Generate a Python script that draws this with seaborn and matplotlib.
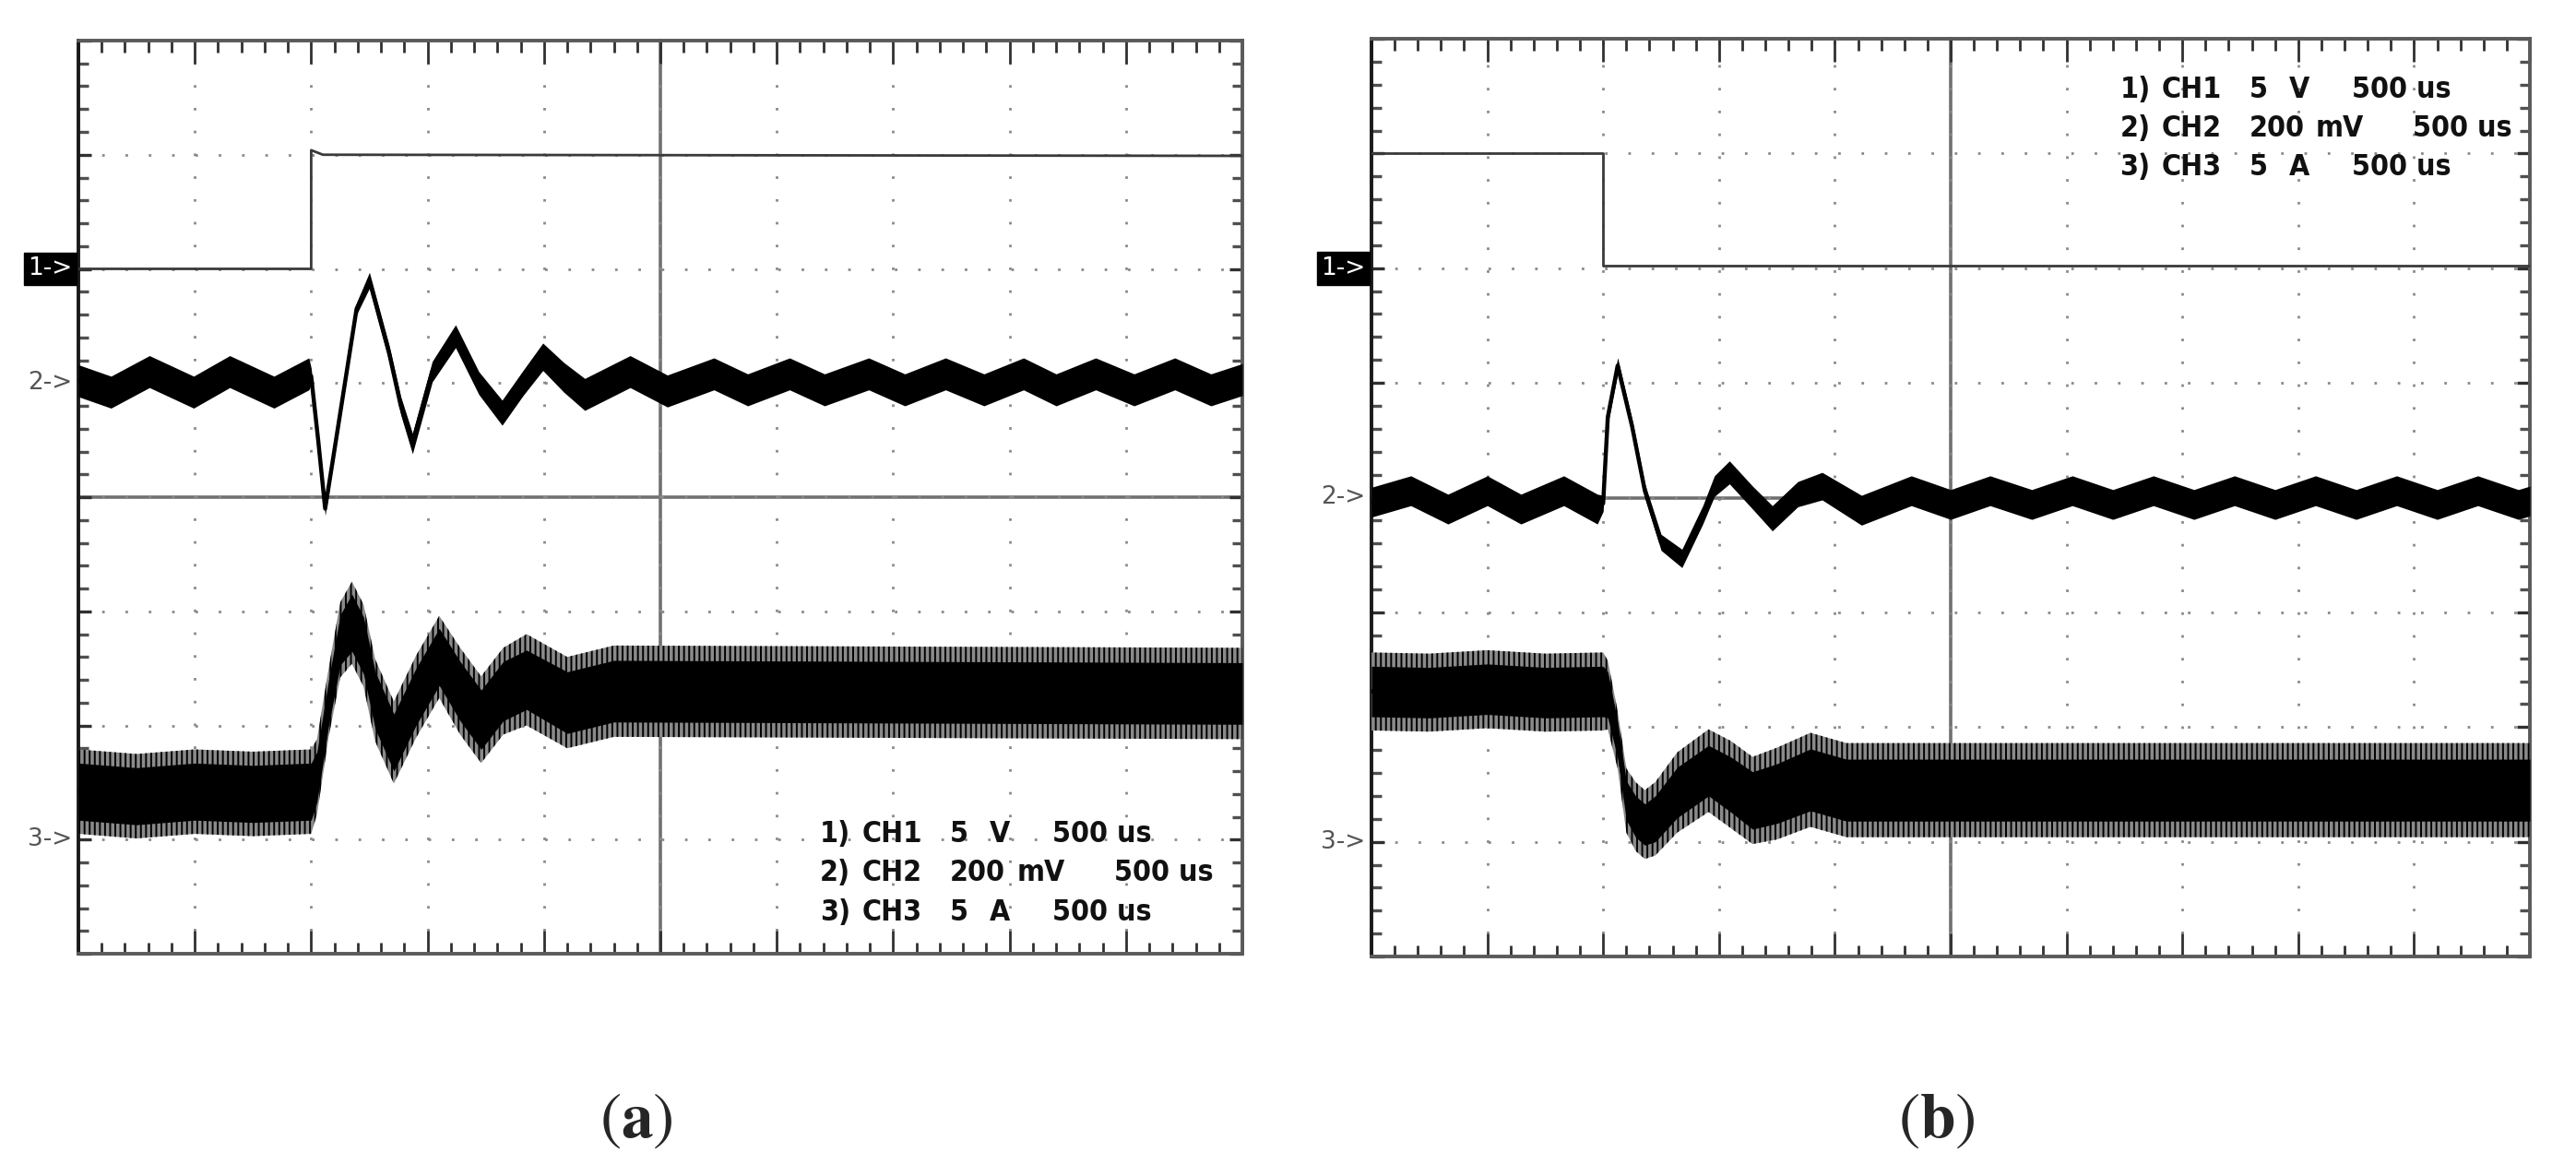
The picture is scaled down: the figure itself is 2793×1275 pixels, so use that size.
import numpy as np
import matplotlib
matplotlib.use("Agg")
import matplotlib.pyplot as plt
from matplotlib.ticker import MultipleLocator
import seaborn as sns

sns.set_style("white")
plt.rcParams['mathtext.fontset'] = 'stix'
plt.rcParams['hatch.linewidth'] = 1.4
plt.rcParams['hatch.color'] = 'black'

# time axis in screen divisions (500 us/div), levels in divisions above screen bottom
# ---------------- panel (a) ----------------
a_ch1_t = [0.0, 2.0, 2.0, 2.1, 10.0]
a_ch1_y = [6.0, 6.0, 7.04, 7.0, 6.99]

a_ch2_t = [0.00, 0.28, 0.61, 0.99, 1.30, 1.68, 1.98, 2.00, 2.06, 2.12, 2.19, 2.29, 2.39, 2.50,
           2.67, 2.77, 2.87, 3.04, 3.24, 3.44, 3.64, 3.82, 3.99, 4.17, 4.35, 4.74, 5.06, 5.46,
           5.75, 6.11, 6.41, 6.79, 7.10, 7.45, 7.78, 8.12, 8.40, 8.74, 9.07, 9.42, 9.73, 10.0]
a_ch2_y = [5.02, 4.92, 5.10, 4.92, 5.10, 4.92, 5.08, 5.06, 4.50, 3.90, 4.35, 5.00, 5.65, 5.90,
           5.26, 4.80, 4.47, 5.10, 5.41, 5.00, 4.74, 5.00, 5.23, 5.05, 4.90, 5.10, 4.93, 5.08,
           4.94, 5.08, 4.94, 5.08, 4.94, 5.08, 4.94, 5.08, 4.94, 5.08, 4.94, 5.08, 4.94, 5.03]
a_ch2_h = [0.14, 0.14, 0.14, 0.14, 0.14, 0.14, 0.14, 0.07, 0.05, 0.06, 0.05, 0.05, 0.05, 0.07,
           0.07, 0.08, 0.09, 0.09, 0.10, 0.10, 0.11, 0.11, 0.12, 0.13, 0.14, 0.14, 0.14, 0.14,
           0.14, 0.14, 0.14, 0.14, 0.14, 0.14, 0.14, 0.14, 0.14, 0.14, 0.14, 0.14, 0.14, 0.14]

a_ch3_t = [0.0, 0.5, 1.0, 1.5, 2.0, 2.05, 2.15, 2.25, 2.35, 2.45, 2.55, 2.71, 2.90, 3.10,
           3.28, 3.46, 3.65, 3.85, 4.20, 4.60, 10.0]
a_ch3_y = [1.42, 1.38, 1.42, 1.40, 1.42, 1.55, 2.20, 2.75, 2.90, 2.70, 2.22, 1.85, 2.25, 2.60,
           2.30, 2.05, 2.30, 2.40, 2.20, 2.30, 2.28]
a_ch3_core = [0.25, 0.25, 0.25, 0.25, 0.25, 0.22, 0.2, 0.22, 0.25, 0.25, 0.25, 0.25, 0.25, 0.25,
              0.26, 0.26, 0.26, 0.26, 0.27, 0.27, 0.27]
a_ch3_spike = [0.37, 0.37, 0.37, 0.37, 0.37, 0.33, 0.3, 0.33, 0.36, 0.36, 0.36, 0.36, 0.36, 0.36,
               0.38, 0.38, 0.38, 0.40, 0.40, 0.40, 0.40]

# ---------------- panel (b) ----------------
b_ch1_t = [0.0, 2.0, 2.0, 10.0]
b_ch1_y = [7.0, 7.0, 6.02, 6.02]

b_ch2_t = [0.00, 0.34, 0.66, 1.00, 1.29, 1.66, 1.95, 2.00, 2.04, 2.125, 2.25, 2.36, 2.50, 2.68,
           2.86, 2.96, 3.09, 3.29, 3.46, 3.68, 3.89, 4.23, 4.66, 5.00, 5.34, 5.70, 6.05, 6.40,
           6.75, 7.10, 7.45, 7.80, 8.15, 8.50, 8.85, 9.20, 9.55, 9.90, 10.0]
b_ch2_y = [3.96, 4.06, 3.90, 4.06, 3.90, 4.06, 3.90, 3.95, 4.70, 5.15, 4.62, 4.06, 3.61, 3.47,
           3.85, 4.10, 4.22, 4.00, 3.82, 4.03, 4.10, 3.89, 4.06, 3.94, 4.06, 3.94, 4.06, 3.94,
           4.06, 3.94, 4.06, 3.94, 4.06, 3.94, 4.06, 3.94, 4.06, 3.94, 3.97]
b_ch2_h = [0.13, 0.13, 0.13, 0.13, 0.13, 0.13, 0.13, 0.07, 0.06, 0.07, 0.06, 0.06, 0.07, 0.08,
           0.08, 0.09, 0.10, 0.10, 0.11, 0.11, 0.12, 0.13, 0.13, 0.13, 0.13, 0.13, 0.13, 0.13,
           0.13, 0.13, 0.13, 0.13, 0.13, 0.13, 0.13, 0.13, 0.13, 0.13, 0.13]

b_ch3_t = [0.0, 0.5, 1.0, 1.5, 2.0, 2.04, 2.125, 2.2, 2.28, 2.36, 2.45, 2.64, 2.91, 3.10,
           3.29, 3.50, 3.79, 4.10, 10.0]
b_ch3_y = [2.31, 2.30, 2.33, 2.30, 2.31, 2.28, 1.89, 1.36, 1.22, 1.15, 1.20, 1.43, 1.62, 1.50,
           1.36, 1.42, 1.54, 1.45, 1.45]
b_ch3_core = [0.22, 0.22, 0.22, 0.22, 0.22, 0.2, 0.16, 0.17, 0.18, 0.18, 0.2, 0.22, 0.22, 0.24,
              0.25, 0.26, 0.27, 0.27, 0.27]
b_ch3_spike = [0.34, 0.34, 0.34, 0.34, 0.34, 0.3, 0.25, 0.28, 0.3, 0.3, 0.32, 0.35, 0.36, 0.38,
               0.38, 0.40, 0.41, 0.41, 0.41]

legend_rows = [["1)", "CH1", "5", "V", "500 us"],
               ["2)", "CH2", "200", "mV", "500 us"],
               ["3)", "CH3", "5", "A", "500 us"]]
ch_marks = ["1->", "2->", "3->"]
a_marks_y = [6.0, 5.0, 1.0]
b_marks_y = [6.0, 4.0, 1.0]
panel_labels = ["a", "b"]

FIG_W, FIG_H = 2793, 1275
fig = plt.figure(figsize=(FIG_W / 100, FIG_H / 100), dpi=100)


def rect(l, t, r, b):
    return [l / FIG_W, 1 - b / FIG_H, (r - l) / FIG_W, (b - t) / FIG_H]


def screen(r):
    # centre cross with its own tick marks, drawn behind the traces
    axc = fig.add_axes(r, zorder=0)
    axc.set_xlim(0, 10)
    axc.set_ylim(0, 8)
    axc.patch.set_visible(False)
    axc.spines['top'].set_visible(False)
    axc.spines['right'].set_visible(False)
    axc.spines['left'].set_position(('data', 5))
    axc.spines['bottom'].set_position(('data', 4))
    for s in ['left', 'bottom']:
        axc.spines[s].set_color('#707070')
        axc.spines[s].set_linewidth(2.6)
    for a in [axc.xaxis, axc.yaxis]:
        a.set_major_locator(MultipleLocator(1))
        a.set_minor_locator(MultipleLocator(0.2))
    axc.tick_params(axis='x', which='major', direction='inout', length=29, width=1.8,
                    color='#2a2a2a', labelbottom=False)
    axc.tick_params(axis='x', which='minor', direction='inout', length=13, width=1.8,
                    color='#2a2a2a')
    axc.tick_params(axis='y', which='major', direction='inout', length=33, width=1.8,
                    color='#2a2a2a', labelleft=False)
    axc.tick_params(axis='y', which='minor', direction='inout', length=14, width=1.8,
                    color='#2a2a2a')

    ax = fig.add_axes(r, zorder=1)
    ax.set_xlim(0, 10)
    ax.set_ylim(0, 8)
    ax.patch.set_visible(False)
    for a in [ax.xaxis, ax.yaxis]:
        a.set_major_locator(MultipleLocator(1))
        a.set_minor_locator(MultipleLocator(0.2))
    ax.grid(True, which='major', axis='x', color='#8a8a8a', lw=2, linestyle=(0, (1, 7.9)))
    ax.grid(True, which='major', axis='y', color='#8a8a8a', lw=2, linestyle=(0, (1, 8.1)))
    ax.tick_params(axis='x', which='major', direction='in', length=18, width=2,
                   color='#303030', top=True, bottom=True, labelbottom=False)
    ax.tick_params(axis='x', which='minor', direction='in', length=9, width=2,
                   color='#303030', top=True, bottom=True)
    ax.tick_params(axis='y', which='major', direction='in', length=10, width=2.4,
                   color='#303030', left=True, right=True, labelleft=False)
    ax.tick_params(axis='y', which='minor', direction='in', length=8, width=2.4,
                   color='#505050', left=True, right=True)
    for s in ax.spines.values():
        s.set_color('#5a5a5a')
        s.set_linewidth(2.8)
    ax.spines['left'].set_color('#1a1a1a')
    return ax


def trace(ax, t, y, h, spike=None):
    t = np.asarray(t)
    y = np.asarray(y)
    h = np.asarray(h)
    if spike is not None:
        sp = np.asarray(spike)
        ax.fill_between(t, y - sp, y + sp, facecolor='#8a8a8a', edgecolor='black',
                        hatch='|||', lw=0, zorder=3)
    ax.fill_between(t, y - h, y + h, color='black', lw=0, zorder=4)
    sns.lineplot(x=t, y=y, ax=ax, color='black', lw=3.2, estimator=None, sort=False, zorder=5)


def step(ax, t, y):
    sns.lineplot(x=t, y=y, ax=ax, color='#3a3a3a', lw=2.0, estimator=None, sort=False, zorder=5)


def marks(ax, ys):
    ax.text(-0.05, ys[0], ch_marks[0], ha='right', va='center', color='white', fontsize=19,
            clip_on=False,
            bbox=dict(boxstyle='square,pad=0.18', fc='black', ec='black'))
    for lab, yy in zip(ch_marks[1:], ys[1:]):
        ax.text(-0.05, yy, lab, ha='right', va='center', color='#555555', fontsize=19,
                clip_on=False)


def legend(ax, x0, y0, dy):
    cols = [0.0, 0.36, 1.12, 1.46, 2.0]
    cols_row2 = [0.0, 0.36, 1.12, 1.69, 2.53]
    for i, row in enumerate(legend_rows):
        cc = cols_row2 if i == 1 else cols
        for txt, c in zip(row, cc):
            ax.text(x0 + c, y0 - i * dy, txt, ha='left', va='center', fontsize=23,
                    fontweight='bold', fontstretch='condensed', color='#111111',
                    family=['DejaVu Sans'], zorder=6)


ax_a = screen(rect(85, 44, 1347, 1034))
step(ax_a, a_ch1_t, a_ch1_y)
trace(ax_a, a_ch2_t, a_ch2_y, a_ch2_h)
trace(ax_a, a_ch3_t, a_ch3_y, a_ch3_core, a_ch3_spike)
marks(ax_a, a_marks_y)
legend(ax_a, 6.37, 1.05, 0.345)

ax_b = screen(rect(1487, 42, 2743, 1037))
step(ax_b, b_ch1_t, b_ch1_y)
trace(ax_b, b_ch2_t, b_ch2_y, b_ch2_h)
trace(ax_b, b_ch3_t, b_ch3_y, b_ch3_core, b_ch3_spike)
marks(ax_b, b_marks_y)
legend(ax_b, 6.46, 7.55, 0.335)

for lab, xc in zip(panel_labels, [690, 2100]):
    fig.text(xc / FIG_W, 1 - 1216 / FIG_H, r'($\mathbf{%s}$)' % lab, ha='center', va='center',
             fontsize=50, family='STIXGeneral')

fig.savefig("out.png", dpi=100)
